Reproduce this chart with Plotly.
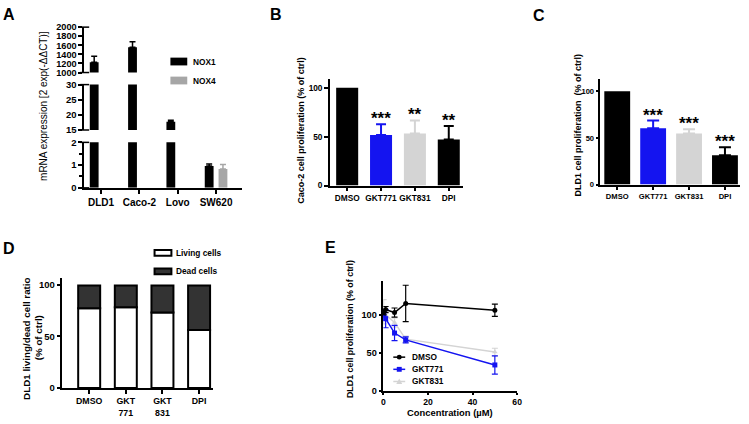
import plotly.graph_objects as go

W, H = 749, 424
FONT = "Liberation Sans, Arial, sans-serif"

# ---------------- data ----------------
# Panel A
a_cells = ["DLD1", "Caco-2", "Lovo", "SW620"]
a_nox1 = [1227, 1558, 17.7, 0.96]
a_nox1_err = [130, 120, 0.5, 0.09]
a_nox4 = [None, None, None, 0.83]
a_nox4_err = [0, 0, 0, 0.2]
a_series = ["NOX1", "NOX4"]

# Panel B (Caco-2)
b_treat = ["DMSO", "GKT771", "GKT831", "DPI"]
b_mean = [100, 51.7, 53.3, 47]
b_err = [0, 11, 13.3, 14]
b_stars = ["", "***", "**", "**"]

# Panel C (DLD1)
c_treat = ["DMSO", "GKT771", "GKT831", "DPI"]
c_mean = [100, 60.2, 54.7, 31.3]
c_err = [0, 8.4, 4.5, 8.7]
c_stars = ["", "***", "***", "***"]

# Panel D (living / dead)
d_treat = ["DMSO", "GKT771", "GKT831", "DPI"]
d_ticktext = ["DMSO", "GKT<br>771", "GKT<br>831", "DPI"]
d_living = [77, 78, 73, 56]
d_dead = [22, 21, 26, 43]
d_series = ["Living cells", "Dead cells"]

# Panel E (dose response)
e_conc = [0.1, 1, 5, 10, 50]
e_dmso = [103, 107, 103, 115, 106]
e_dmso_err = [3, 4, 6, 24, 8]
e_gkt771 = [101, 95, 76, 67, 34]
e_gkt771_err = [4, 12, 10, 4, 12]
e_gkt831 = [104, 100, 90, 68, 51]
e_gkt831_err = [16, 8, 6, 4, 5]
e_names = ["DMSO", "GKT771", "GKT831"]

# colours
BLACK = "#000000"
BLUE = "#1414F0"
LGRAY = "#D4D4D4"
MGRAY = "#A6A6A6"
DGRAY = "#333333"


def dx(a, b):
    return [a / W, b / W]


def dy(top, bottom):
    return [1 - bottom / H, 1 - top / H]


def px(x):
    return x / W


def py(y):
    return 1 - y / H


AX = dict(showline=True, linecolor=BLACK, linewidth=1.5, ticks="outside",
          ticklen=4, tickwidth=1.5, tickcolor=BLACK, showgrid=False,
          zeroline=False, fixedrange=True)

fig = go.Figure()

# ---------------- Panel A: broken axis bars ----------------
A_SEGS = [("y", 140, 186.7), ("y2", 80.7, 127.3), ("y3", 21.7, 68.3)]
for seg, _, _ in A_SEGS:
    fig.add_trace(go.Bar(
        x=a_cells, y=a_nox1, xaxis="x", yaxis=seg, name=a_series[0],
        width=0.23, offset=-0.295, marker=dict(color=BLACK, line=dict(width=0)),
        error_y=dict(type="data", array=a_nox1_err, arrayminus=[0] * 4,
                     symmetric=False, color=BLACK, thickness=1.5, width=3),
        showlegend=False))
    fig.add_trace(go.Bar(
        x=a_cells, y=a_nox4, xaxis="x", yaxis=seg, name=a_series[1],
        width=0.23, offset=0.065, marker=dict(color=MGRAY, line=dict(width=0)),
        error_y=dict(type="data", array=a_nox4_err, arrayminus=[0] * 4,
                     symmetric=False, color=MGRAY, thickness=1.5, width=3),
        showlegend=False))

# ---------------- Panel B ----------------
b_cols = [BLACK, BLUE, LGRAY, BLACK]
for i in range(len(b_treat)):
    fig.add_trace(go.Bar(
        x=[b_treat[i]], y=[b_mean[i]], xaxis="x2", yaxis="y4", width=0.65,
        marker=dict(color=b_cols[i], line=dict(width=0)),
        error_y=dict(type="data", array=[b_err[i]], arrayminus=[0],
                     symmetric=False, color=b_cols[i], thickness=2, width=5,
                     visible=b_err[i] > 0),
        showlegend=False))

# ---------------- Panel C ----------------
c_cols = [BLACK, BLUE, LGRAY, BLACK]
for i in range(len(c_treat)):
    fig.add_trace(go.Bar(
        x=[c_treat[i]], y=[c_mean[i]], xaxis="x3", yaxis="y5", width=0.72,
        marker=dict(color=c_cols[i], line=dict(width=0)),
        error_y=dict(type="data", array=[c_err[i]], arrayminus=[0],
                     symmetric=False, color=c_cols[i], thickness=2, width=6,
                     visible=c_err[i] > 0),
        showlegend=False))

# ---------------- Panel D ----------------
fig.add_trace(go.Bar(
    x=d_treat, y=d_living, xaxis="x4", yaxis="y6", width=0.6, name=d_series[0],
    marker=dict(color="white", line=dict(color=BLACK, width=2)), showlegend=False))
fig.add_trace(go.Bar(
    x=d_treat, y=d_dead, base=d_living, xaxis="x4", yaxis="y6", width=0.6,
    name=d_series[1],
    marker=dict(color=DGRAY, line=dict(color=BLACK, width=2)), showlegend=False))

# ---------------- Panel E ----------------
e_specs = [
    (e_gkt831, e_gkt831_err, LGRAY, "triangle-up", e_names[2]),
    (e_gkt771, e_gkt771_err, BLUE, "square", e_names[1]),
    (e_dmso, e_dmso_err, BLACK, "circle", e_names[0]),
]
for ys, es, col, sym, nm in e_specs:
    fig.add_trace(go.Scatter(
        x=e_conc, y=ys, xaxis="x5", yaxis="y7", name=nm, mode="lines+markers",
        line=dict(color=col, width=1.5), marker=dict(color=col, size=5, symbol=sym),
        error_y=dict(type="data", array=es, color=col, thickness=1.2, width=3),
        cliponaxis=False, showlegend=False))

# ---------------- axes ----------------
lay = dict(
    # A
    xaxis=dict(AX, domain=dx(83, 242), anchor="y", range=[-0.44, 3.67],
               tickfont=dict(size=10)),
    yaxis=dict(AX, domain=dy(140, 186.7), anchor="x", range=[0, 2], dtick=1,
               minor=dict(dtick=0.5, ticks="outside", ticklen=3, tickwidth=1.5,
                          tickcolor=BLACK), tickfont=dict(size=9.5)),
    yaxis2=dict(AX, domain=dy(80.7, 127.3), anchor="x", range=[15, 30], dtick=5,
                tickfont=dict(size=9.5)),
    yaxis3=dict(AX, domain=dy(21.7, 68.3), anchor="x", range=[1000, 2000],
                dtick=200, tickfont=dict(size=9.2)),
    # B
    xaxis2=dict(AX, domain=dx(331, 465), anchor="y4", range=[-0.51, 3.41],
                tickfont=dict(size=8.3)),
    yaxis4=dict(AX, domain=dy(75, 184.3), anchor="x2", range=[0, 109],
                tickvals=[0, 50, 100], tickfont=dict(size=8.3)),
    # C
    xaxis3=dict(AX, domain=dx(604, 745), anchor="y5", range=[-0.47, 3.42],
                tickfont=dict(size=7.6)),
    yaxis5=dict(AX, domain=dy(75, 183.3), anchor="x3", range=[0, 113],
                tickvals=[0, 50, 100], tickfont=dict(size=7.6), ticklen=3),
    # D
    xaxis4=dict(AX, domain=dx(61, 213), anchor="y6", range=[-0.73, 3.38],
                tickvals=d_treat, ticktext=d_ticktext, tickfont=dict(size=8.8)),
    yaxis6=dict(AX, domain=dy(279, 392.3), anchor="x4", range=[0, 106.5],
                tickvals=[0, 50, 100], tickfont=dict(size=9.5)),
    # E
    xaxis5=dict(AX, domain=dx(385, 520), anchor="y7", range=[0, 60],
                tickvals=[0, 20, 40, 60], tickfont=dict(size=8.6), ticklen=2),
    yaxis7=dict(AX, domain=dy(282, 395), anchor="x5", range=[0, 145],
                tickvals=[0, 50, 100], tickfont=dict(size=9.2), ticklen=3),
)

annotations = []
shapes = []

# axis-break caps for panel A
for seg, top, bottom in A_SEGS:
    for yy in (top, bottom):
        shapes.append(dict(type="line", xref="paper", yref="paper",
                           x0=px(79), x1=px(88), y0=py(yy), y1=py(yy),
                           line=dict(color=BLACK, width=1.5)))

# panel letters
for txt, x, y in [("A", 7, 9), ("B", 277, 9), ("C", 542, 10), ("D", 7, 249), ("E", 332, 248)]:
    annotations.append(dict(text=txt, x=px(x), y=py(y), xref="paper", yref="paper",
                            showarrow=False, font=dict(size=16, weight="bold"),
                            xanchor="center", yanchor="middle"))

# y-axis titles
for txt, x, y, sz, wt in [
    ("mRNA expression [2 exp(-ΔΔCT)]", 42, 103, 10, "normal"),
    ("Caco-2 cell proliferation (% of ctrl)", 302, 128, 9, "bold"),
    ("DLD1 cell proliferation  (% of ctrl)", 581, 122, 9, "bold"),
    ("DLD1 living/dead cell ratio", 24, 341, 9.8, "bold"),
    ("(% of ctrl)", 36.5, 341, 9.8, "bold"),
    ("DLD1 cell proliferation (% of ctrl)", 352, 332, 8.9, "bold"),
]:
    annotations.append(dict(text=txt, x=px(x), y=py(y), xref="paper", yref="paper",
                            showarrow=False, textangle=-90,
                            font=dict(size=sz, weight=wt),
                            xanchor="center", yanchor="middle"))

# x title E
annotations.append(dict(text="Concentration (µM)", x=px(452), y=py(417.5),
                        xref="paper", yref="paper", showarrow=False,
                        font=dict(size=9.4, weight="bold"),
                        xanchor="center", yanchor="middle"))

# significance stars
for cats, means, errs, stars, xr, yr in [
    (b_treat, b_mean, b_err, b_stars, "x2", "y4"),
    (c_treat, c_mean, c_err, c_stars, "x3", "y5"),
]:
    for c, m, e, s in zip(cats, means, errs, stars):
        if s:
            annotations.append(dict(text=s, x=c, y=m + e, xref=xr, yref=yr,
                                    showarrow=False, xanchor="center",
                                    yanchor="bottom", yshift=-6,
                                    font=dict(size=17, weight="bold")))

# legend A
for i, (nm, col) in enumerate(zip(a_series, [BLACK, MGRAY])):
    yc = 57 + i * 19.5
    shapes.append(dict(type="rect", xref="paper", yref="paper",
                       x0=px(170), x1=px(187), y0=py(yc + 4), y1=py(yc - 4),
                       fillcolor=col, line=dict(width=0)))
    annotations.append(dict(text=nm, x=px(191), y=py(yc), xref="paper", yref="paper",
                            showarrow=False, xanchor="left", yanchor="middle",
                            font=dict(size=8.3, weight="bold")))

# legend D
for i, (nm, col) in enumerate(zip(d_series, ["white", DGRAY])):
    yc = 253.5 + i * 19
    shapes.append(dict(type="rect", xref="paper", yref="paper",
                       x0=px(154), x1=px(171), y0=py(yc + 3), y1=py(yc - 3),
                       fillcolor=col, line=dict(color=BLACK, width=2)))
    annotations.append(dict(text=nm, x=px(174), y=py(yc), xref="paper", yref="paper",
                            showarrow=False, xanchor="left", yanchor="middle",
                            font=dict(size=8.3, weight="bold")))

# legend E
for i, (nm, col, sym) in enumerate(zip(e_names, [BLACK, BLUE, LGRAY],
                                        ["circle", "square", "triangle"])):
    yc = 360.5 + i * 12.5
    shapes.append(dict(type="line", xref="paper", yref="paper",
                       x0=px(395), x1=px(407), y0=py(yc), y1=py(yc),
                       line=dict(color=col, width=1.5)))
    cx = 401
    if sym == "circle":
        shapes.append(dict(type="circle", xref="paper", yref="paper",
                           x0=px(cx - 2.5), x1=px(cx + 2.5), y0=py(yc + 2.5), y1=py(yc - 2.5),
                           fillcolor=col, line=dict(width=0)))
    elif sym == "square":
        shapes.append(dict(type="rect", xref="paper", yref="paper",
                           x0=px(cx - 2.5), x1=px(cx + 2.5), y0=py(yc + 2.5), y1=py(yc - 2.5),
                           fillcolor=col, line=dict(width=0)))
    else:
        shapes.append(dict(type="path", xref="paper", yref="paper",
                           path=f"M {px(cx - 3)} {py(yc + 2.5)} L {px(cx + 3)} {py(yc + 2.5)} L {px(cx)} {py(yc - 3)} Z",
                           fillcolor=col, line=dict(width=0)))
    annotations.append(dict(text=nm, x=px(412), y=py(yc), xref="paper", yref="paper",
                            showarrow=False, xanchor="left", yanchor="middle",
                            font=dict(size=8.3, weight="bold")))

fig.update_layout(
    width=W, height=H, autosize=False,
    margin=dict(l=0, r=0, t=0, b=0),
    paper_bgcolor="white", plot_bgcolor="white",
    font=dict(family=FONT, color=BLACK, size=10, weight="bold"),
    barmode="overlay", showlegend=False,
    annotations=annotations, shapes=shapes,
    **lay,
)

fig.write_html("out.html", config={"displayModeBar": False},
               post_script="document.body.style.margin='0';document.body.style.overflow='hidden';")
